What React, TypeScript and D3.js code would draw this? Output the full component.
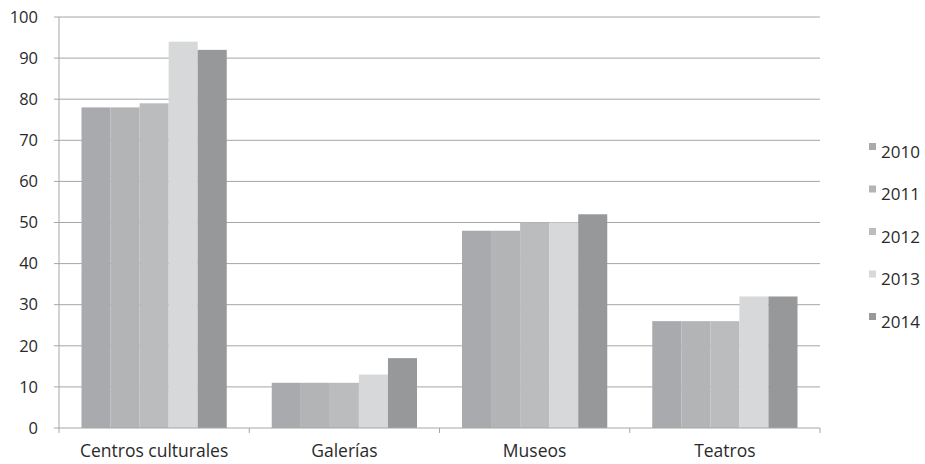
import React from "react";
import * as d3 from "d3";

const categories = ["Centros culturales", "Galerías", "Museos", "Teatros"];
const years = ["2010", "2011", "2012", "2013", "2014"];
const v2010 = [78, 11, 48, 26];
const v2011 = [78, 11, 48, 26];
const v2012 = [79, 11, 50, 26];
const v2013 = [94, 13, 50, 32];
const v2014 = [92, 17, 52, 32];
const yTicks = [0, 10, 20, 30, 40, 50, 60, 70, 80, 90, 100];
const colors = ["#a9aaad", "#b3b4b6", "#bbbcbe", "#d7d8da", "#97989a"];

const series = [v2010, v2011, v2012, v2013, v2014];

export default function App() {
  const W = 925, H = 464;
  const left = 59, right = 820, top = 17, bottom = 428;
  const x = d3.scaleBand<string>().domain(categories).range([left, right]).paddingInner(0).paddingOuter(0);
  const y = d3.scaleLinear().domain([0, 100]).range([bottom, top]);
  const inner = d3.scaleBand<string>().domain(years).range([22.5, x.bandwidth() - 22.5]).padding(0);
  const font = "'Open Sans', Lato, sans-serif";
  return (
    <svg width={W} height={H} style={{ position: "absolute", left: 0, top: 0, background: "#fff" }}>
      {yTicks.map((t) => (
        <g key={t}>
          {t > 0 && <line x1={left} x2={right} y1={y(t)} y2={y(t)} stroke="#a6a6a6" strokeWidth={1} />}
          <line x1={left - 5} x2={left} y1={y(t)} y2={y(t)} stroke="#a6a6a6" strokeWidth={1} />
          <text x={38} y={y(t)} dy="0.35em" textAnchor="end" fontFamily={font} fontSize={16.5} fill="#2a2a2a">{t}</text>
        </g>
      ))}
      {categories.map((c, i) =>
        series.map((s, j) => (
          <rect key={c + j} x={(x(c) as number) + (inner(years[j]) as number)} y={y(s[i])}
            width={inner.bandwidth()} height={y(0) - y(s[i])} fill={colors[j]} />
        ))
      )}
      <line x1={left} x2={left} y1={top} y2={bottom} stroke="#a6a6a6" strokeWidth={1} />
      <line x1={left} x2={right} y1={bottom} y2={bottom} stroke="#a6a6a6" strokeWidth={1} />
      {[...categories.map((c) => x(c) as number), right].map((p, i) => (
        <line key={i} x1={p} x2={p} y1={bottom} y2={bottom + 5} stroke="#a6a6a6" strokeWidth={1} />
      ))}
      {categories.map((c) => (
        <text key={c} x={(x(c) as number) + x.bandwidth() / 2} y={457} textAnchor="middle" fontFamily={font} fontSize={17.5} fill="#2a2a2a">{c}</text>
      ))}
      {years.map((yr, j) => (
        <g key={yr} transform={`translate(869, ${152 + j * 42.5})`}>
          <rect x={0} y={-9} width={7} height={7} fill={colors[j]} />
          <text x={12} y={0} dy="0.35em" fontFamily={font} fontSize={17} fill="#2a2a2a">{yr}</text>
        </g>
      ))}
    </svg>
  );
}
